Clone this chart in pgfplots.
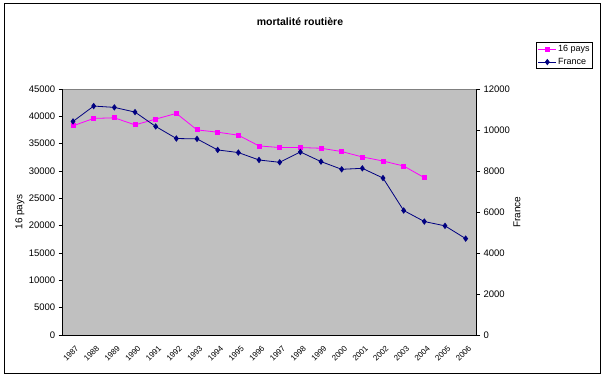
\documentclass[border=0pt]{standalone}
\usepackage{pgfplots}
\pgfplotsset{compat=1.18}
\usepackage{fontspec}
\setmainfont{Liberation Sans}
\definecolor{plotgray}{HTML}{C0C0C0}
\definecolor{navyblue}{HTML}{000080}
\definecolor{magpink}{HTML}{FF00FF}
\pgfplotsset{
 common/.style={
  scale only axis, width=413.3bp, height=246bp,
  at={(62.7bp,44bp)}, anchor=south west,
  xmin=-0.5, xmax=19.5,
  tick align=outside, major tick length=4bp, minor tick length=4bp,
  axis line style={black, line width=0.8bp},
  tick style={black, line width=0.8bp},
  minor tick style={black, line width=0.8bp},
  tick label style={font=\fontsize{9.5bp}{11bp}\selectfont},
  /pgf/number format/assume math mode=true,
  /pgf/number format/1000 sep={},
  scaled y ticks=false,
  label style={font=\fontsize{10bp}{12bp}\selectfont},
 }
}
\begin{document}
\begin{tikzpicture}
\useasboundingbox (0,0) rectangle (604bp,379bp);
\fill[white] (0,0) rectangle (604bp,379bp);
\draw[line width=1bp] (4bp,5bp) rectangle (600bp,375bp);
\node[font=\bfseries\fontsize{10.5bp}{12bp}\selectfont] at (300bp,357bp) {mortalité routière};

\begin{axis}[common,
  axis x line*=bottom, axis y line*=left,
  ymin=0, ymax=45000, ytick={0,5000,...,45000},
  xtick=\empty,
  minor xtick={-0.5,0.5,...,19.5},
  extra x ticks={0,1,...,19},
  extra x tick labels={1987,1988,1989,1990,1991,1992,1993,1994,1995,1996,1997,1998,1999,2000,2001,2002,2003,2004,2005,2006},
  extra x tick style={major tick length=0pt, xticklabel style={rotate=45, anchor=north east, font=\fontsize{8bp}{9bp}\selectfont, inner sep=1.5bp, xshift=-4bp, yshift=-7bp}},
  axis background/.style={fill=plotgray},
  ylabel={16 pays},
  ylabel style={at={(axis description cs:-0.1033,0.5)}, anchor=center},
]
\draw[gray, line width=0.8bp] (rel axis cs:0,1) -- (rel axis cs:1,1);
\addplot[magpink, line width=0.8bp, mark=square*, mark size=2bp, mark options={solid}] coordinates {
(0,38260)(1,39620)(2,39730)(3,38440)(4,39490)(5,40540)(6,37520)(7,37100)(8,36550)(9,34590)(10,34290)(11,34290)(12,34160)(13,33560)(14,32570)(15,31830)(16,30910)(17,28780)};
\end{axis}

\begin{axis}[common,
  axis y line*=right, axis x line=none,
  ymin=0, ymax=12000, ytick={0,2000,...,12000},
  ylabel={France},
  ylabel style={at={(axis description cs:1.0992,0.5)}, anchor=center},
  legend style={at={(axis description cs:1.1452,1.191)}, anchor=north west, draw=black, line width=0.8bp, fill=white,
    font=\fontsize{9bp}{11bp}\selectfont, inner sep=1.5bp, row sep=2bp,
    nodes={inner sep=1.5bp}},
  legend cell align=left,
  legend image code/.code={\draw[mark repeat=2,mark phase=2,#1] plot coordinates {(0bp,0bp) (9bp,0bp) (18bp,0bp)};},
]
\addlegendimage{magpink, line width=0.8bp, mark=square*, mark size=2bp}
\addlegendentry{16 pays}
\addplot[navyblue, line width=0.8bp, mark=diamond*, mark size=2.6bp, mark options={solid}] coordinates {
(0,10418)(1,11167)(2,11103)(3,10873)(4,10173)(5,9585)(6,9566)(7,9027)(8,8900)(9,8537)(10,8424)(11,8929)(12,8459)(13,8082)(14,8131)(15,7656)(16,6073)(17,5535)(18,5324)(19,4702)};
\addlegendentry{France}
\end{axis}
\end{tikzpicture}
\end{document}
